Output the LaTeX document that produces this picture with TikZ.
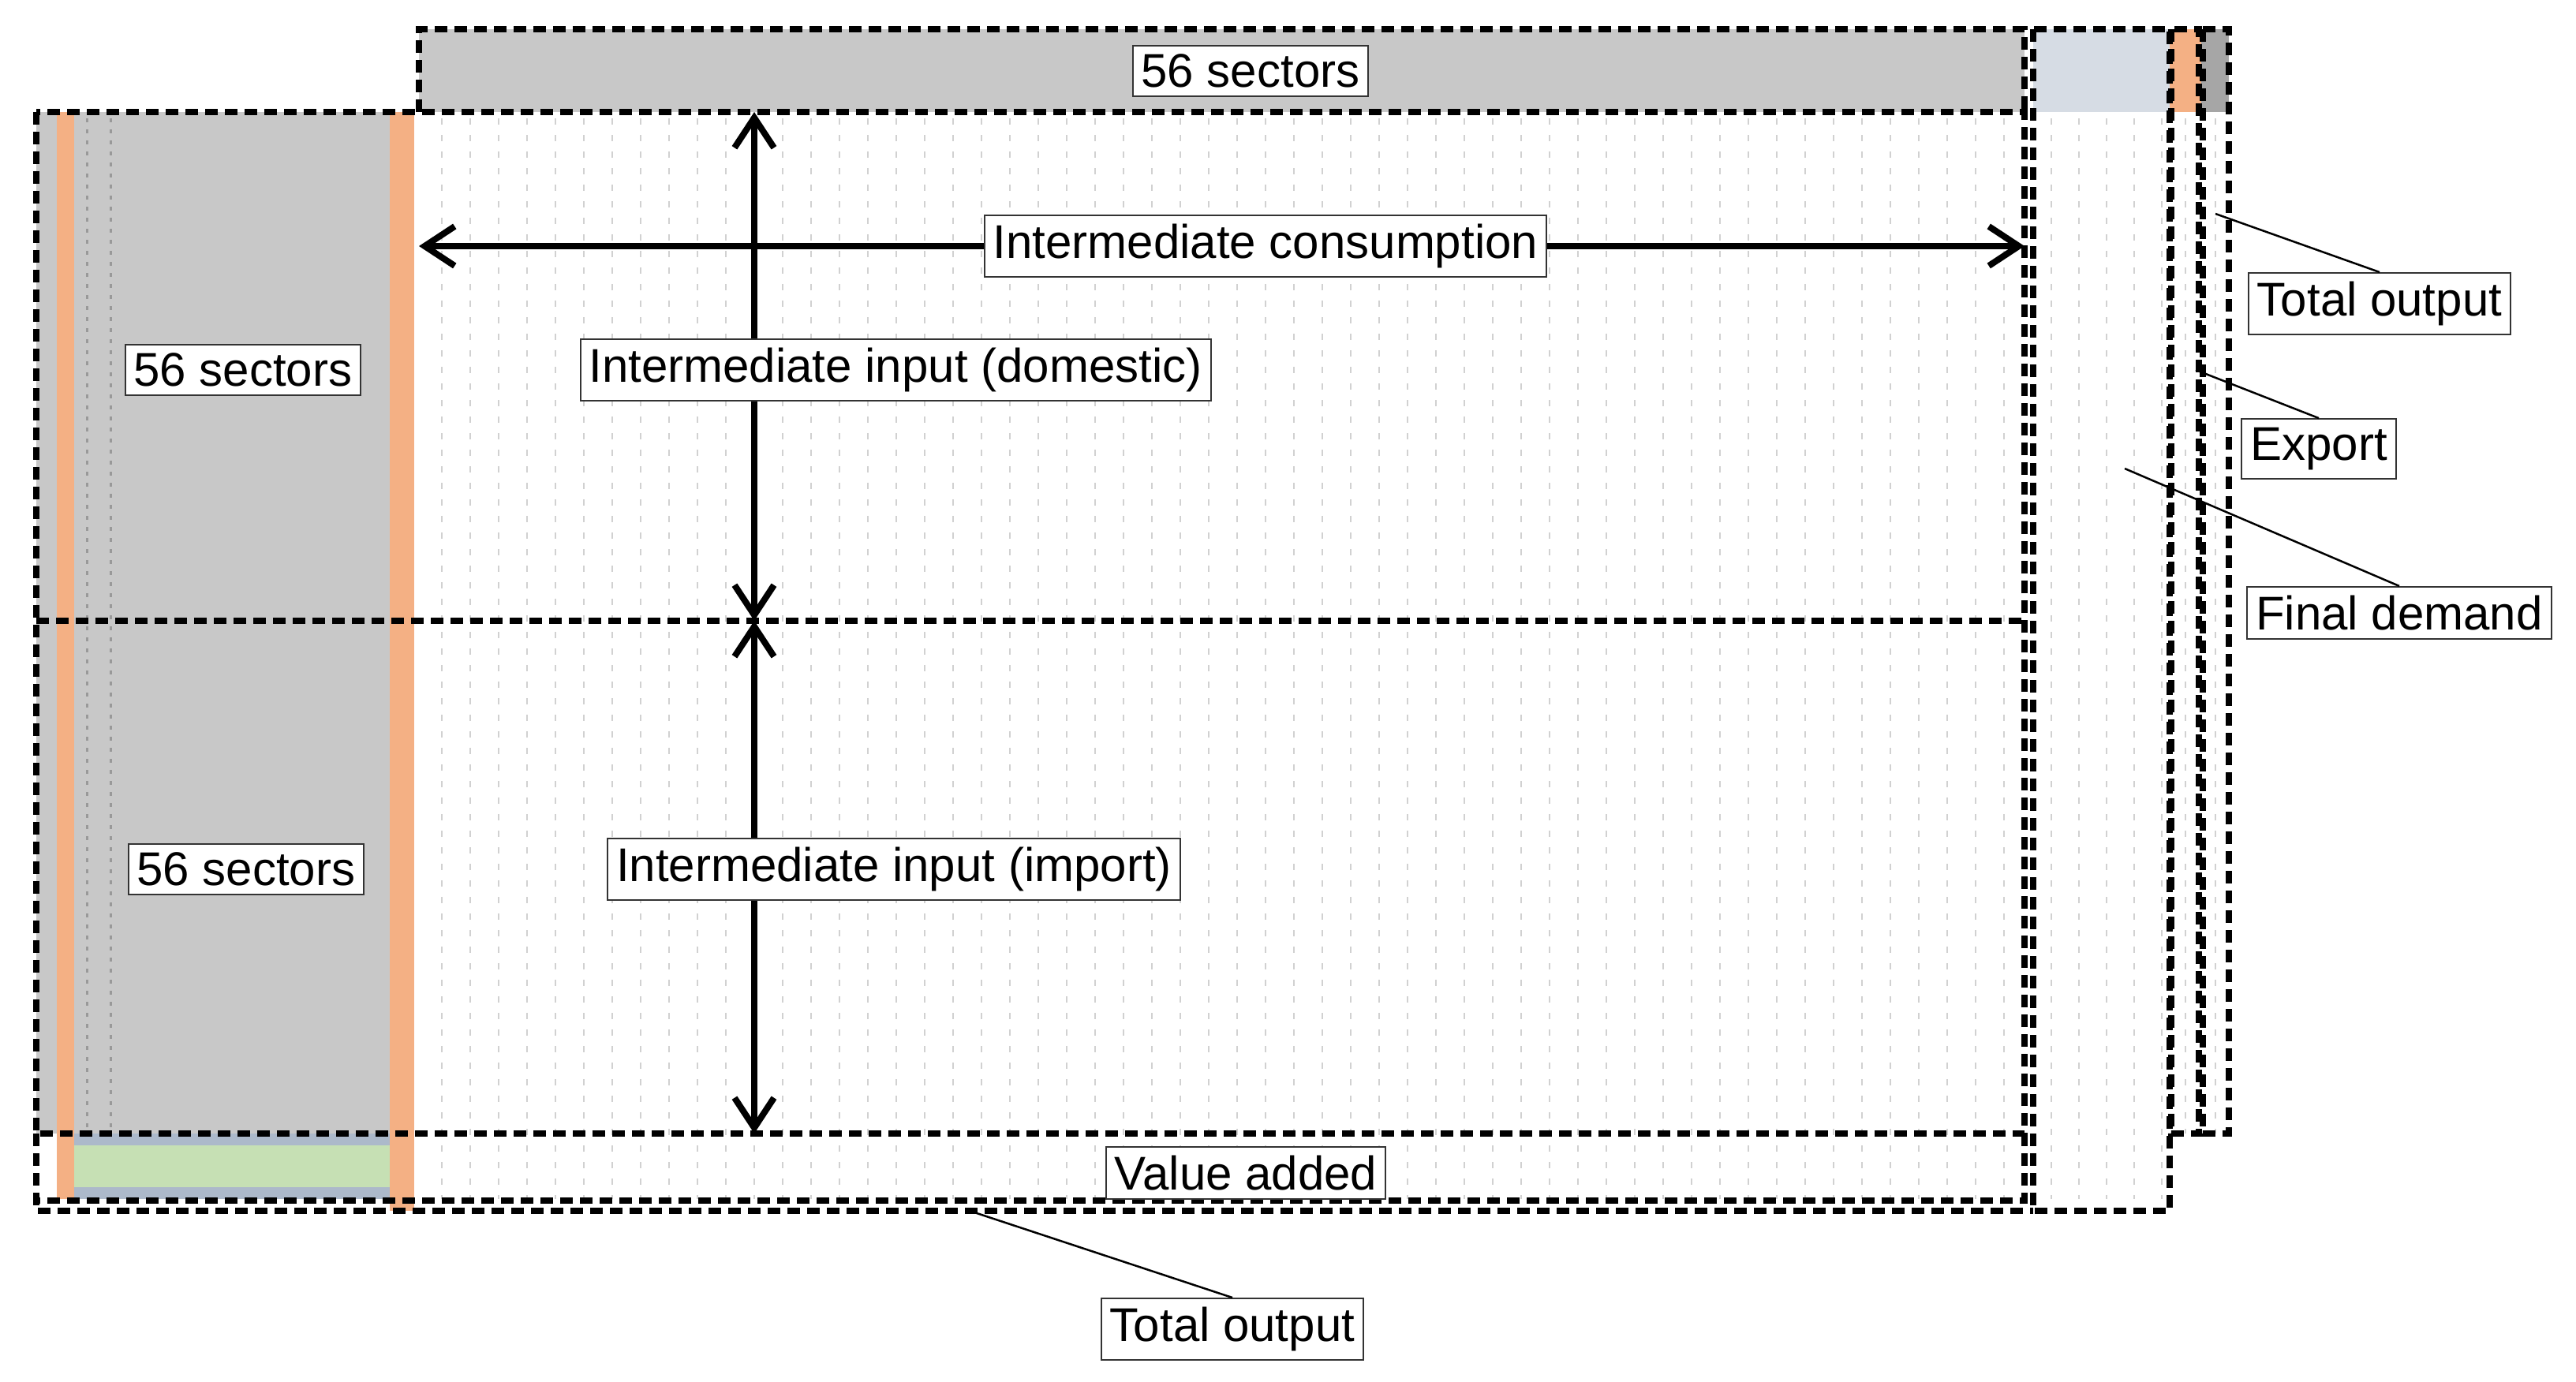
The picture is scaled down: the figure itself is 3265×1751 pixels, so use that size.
\documentclass[tikz,border=0pt]{standalone}
\usepackage{fontspec}
\setmainfont{Liberation Sans}
\usetikzlibrary{arrows.meta}
\begin{document}
\begin{tikzpicture}[x=1pt,y=-1pt,
 lab/.style={draw=black!80,line width=2pt,fill=white,inner sep=11pt,font=\fontsize{60}{62}\selectfont},
 dbox/.style={draw=black,line width=8pt,dash pattern=on 16pt off 9pt},
 arr/.style={line width=8pt,<->,>={Straight Barb[length=38pt,width=50pt,line width=8pt]}},
 lead/.style={line width=2.5pt}]
\useasboundingbox (0,0) rectangle (3265,1751);
\definecolor{hdr}{RGB}{200,200,200}
\definecolor{org}{RGB}{244,176,132}
\definecolor{fdh}{RGB}{214,220,228}
\definecolor{grn}{RGB}{198,224,180}
\definecolor{blu}{RGB}{172,185,202}
% background fills
\fill[hdr] (531,37) rectangle (2566,142);
\fill[fdh] (2577,37) rectangle (2750,142);
\fill[org] (2750,37) rectangle (2790,142);
\fill[black!35] (2790,37) rectangle (2825,142);
\fill[hdr] (46,142) rectangle (500,1437);
\fill[org] (72,142) rectangle (94,1520);
\fill[org] (494,142) rectangle (525,1535);
\fill[blu] (94,1437) rectangle (494,1452);
\fill[grn] (94,1452) rectangle (494,1505);
\fill[blu] (94,1505) rectangle (494,1520);
% faint table entries
\foreach \x in {560,596,...,2560}
  \draw[black!18,line width=2pt,dash pattern=on 8pt off 13pt] (\x,150) -- (\x,1520);
\foreach \x in {2600,2635,...,2745}
  \draw[black!18,line width=2pt,dash pattern=on 8pt off 13pt] (\x,150) -- (\x,1520);
\foreach \x in {2770,2808}
  \draw[black!18,line width=2pt,dash pattern=on 8pt off 13pt] (\x,150) -- (\x,1437);
\foreach \x in {110,140}
  \draw[black!40,line width=3pt,dash pattern=on 5pt off 9pt] (\x,150) -- (\x,1437);
% dashed boxes
\draw[dbox] (531,142) -- (531,37) -- (2566,37) -- (2566,142);
\draw[dbox] (2577,37) rectangle (2750,1535);
\draw[dbox] (2752,37) rectangle (2787,1437);
\draw[dbox] (2792,37) rectangle (2825,1437);
\draw[dbox] (46,142) rectangle (2566,1437);
\draw[dbox] (46,787) -- (2566,787);
\draw[dbox] (46,1437) -- (46,1535) -- (2577,1535);
\draw[dbox] (2566,1437) -- (2566,1522) -- (46,1522);
% arrows
\coordinate (hl) at (531,312); \coordinate (hr) at (2566,312);
\coordinate (v1) at (956,142); \coordinate (v2) at (956,787); \coordinate (v3) at (956,1437);
\draw[arr] (hl) -- (hr);
\draw[arr] (v1) -- (v2);
\draw[arr] (v2) -- (v3);
% labels
\node[lab] (s1) at (1585,90) {56 sectors};
\node[lab] (ic) at (1604,312) {Intermediate consumption};
\node[lab] (dom) at (1135,469) {Intermediate input (domestic)};
\node[lab] (s2) at (308,469) {56 sectors};
\node[lab] (s3) at (312,1102) {56 sectors};
\node[lab] (imp) at (1133,1102) {Intermediate input (import)};
\node[lab] (va) at (1579,1487) {Value added};
\node[lab] (to1) at (1562,1685) {Total output};
\node[lab] (to2) at (3016,385) {Total output};
\node[lab] (ex) at (2939,569) {Export};
\node[lab] (fd) at (3041,777) {Final demand};
\coordinate (p1) at (1229,1535);
\coordinate (p2) at (2808,271);
\coordinate (p3) at (2783,469);
\coordinate (p4) at (2693,594);
\draw[lead] (p1) -- (to1.north);
\draw[lead] (p2) -- (to2.north);
\draw[lead] (p3) -- (ex.north);
\draw[lead] (p4) -- (fd.north);
\end{tikzpicture}
\end{document}
